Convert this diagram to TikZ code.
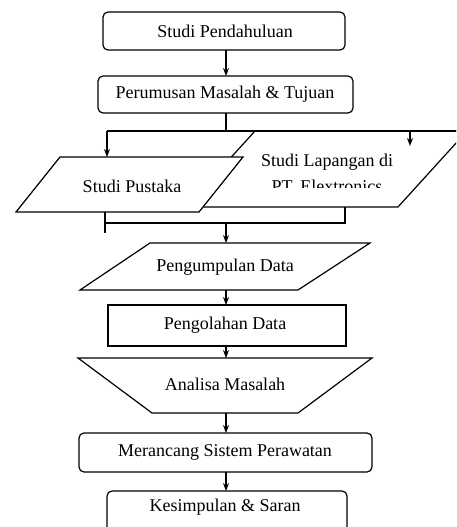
\documentclass[tikz,border=0pt]{standalone}
\usepackage{fontspec}
\setmainfont{Liberation Serif}
\usetikzlibrary{arrows.meta}
\begin{document}
\begin{tikzpicture}[x=1pt,y=-1pt,
  line width=1.2pt,
  lbl/.style={inner sep=0pt, font=\fontsize{18}{26}\selectfont, align=center},
  rbox/.style={draw, rounded corners=5pt, fill=white},
  sbox/.style={draw, fill=white},
  arr/.style={-{Stealth[length=8pt,width=6pt]}}]
\useasboundingbox (0,0) rectangle (456,527);
\clip (0,0) rectangle (456,527);
% boxes
\draw[rbox] (103,12) rectangle (345,50);
\node[lbl] (b1) at (225,31) {Studi Pendahuluan};
\coordinate (b1s) at (226,50);
\draw[rbox] (98,76) rectangle (353,113);
\node[lbl] (b2) at (225,94) {Perumusan Masalah \& Tujuan};
\coordinate (b2n) at (226,76);
\coordinate (b2s) at (226,113);
\draw[arr] (b1s) -- (b2n);
% split
\coordinate (sp) at (226,131);
\coordinate (spL) at (107,131);
\coordinate (spR) at (410,131);
\coordinate (spE) at (460,131);
% Lapangan parallelogram
\draw[sbox] (255,131) -- (467,131) -- (398,207) -- (186,207) -- cycle;
\begin{scope}
\clip (180,131) rectangle (460,187);
\node[lbl] (lap) at (327,173) {Studi Lapangan di\\PT. Elextronics};
\end{scope}
\coordinate (lapin) at (410,146);
\coordinate (laps) at (345,207);
% Pustaka parallelogram
\draw[sbox] (60,157) -- (243,157) -- (199,212) -- (16,212) -- cycle;
\node[lbl] (pus) at (132,186) {Studi Pustaka};
\coordinate (pusn) at (107,157);
\coordinate (puss) at (105,212);
\draw (b2s) -- (sp);
\draw (spL) -- (spE);
\draw[arr] (spL) -- (pusn);
\draw[arr] (spR) -- (lapin);
% merge
\coordinate (mL) at (105,223);
\coordinate (mLe) at (105,233);
\coordinate (mR) at (345,223);
\coordinate (mC) at (226,223);
\draw (puss) -- (mLe);
\draw (mL) -- (mR) -- (laps);
% Pengumpulan
\draw[sbox] (150,243) -- (370,243) -- (298,290) -- (80,290) -- cycle;
\node[lbl] (kum) at (225,267) {Pengumpulan Data};
\coordinate (kumn) at (226,243);
\coordinate (kums) at (226,290);
\draw[arr] (mC) -- (kumn);
% Pengolahan
\draw[sbox] (108,305) rectangle (346,346);
\node[lbl] (olah) at (225,325) {Pengolahan Data};
\coordinate (olahn) at (226,305);
\coordinate (olahs) at (226,346);
\draw[arr] (kums) -- (olahn);
% Analisa
\draw[sbox] (78,358) -- (372,358) -- (298,413) -- (152,413) -- cycle;
\node[lbl] (ana) at (225,384) {Analisa Masalah};
\coordinate (anan) at (226,358);
\coordinate (anas) at (226,413);
\draw[arr] (olahs) -- (anan);
% Merancang
\draw[rbox] (79,433) rectangle (372,472);
\node[lbl] (ran) at (225,452) {Merancang Sistem Perawatan};
\coordinate (rann) at (226,433);
\coordinate (rans) at (226,472);
\draw[arr] (anas) -- (rann);
% Kesimpulan
\draw[rbox] (107,491) rectangle (347,545);
\node[lbl] (kes) at (225,507) {Kesimpulan \& Saran};
\coordinate (kesn) at (226,491);
\draw[arr] (rans) -- (kesn);
\end{tikzpicture}
\end{document}
